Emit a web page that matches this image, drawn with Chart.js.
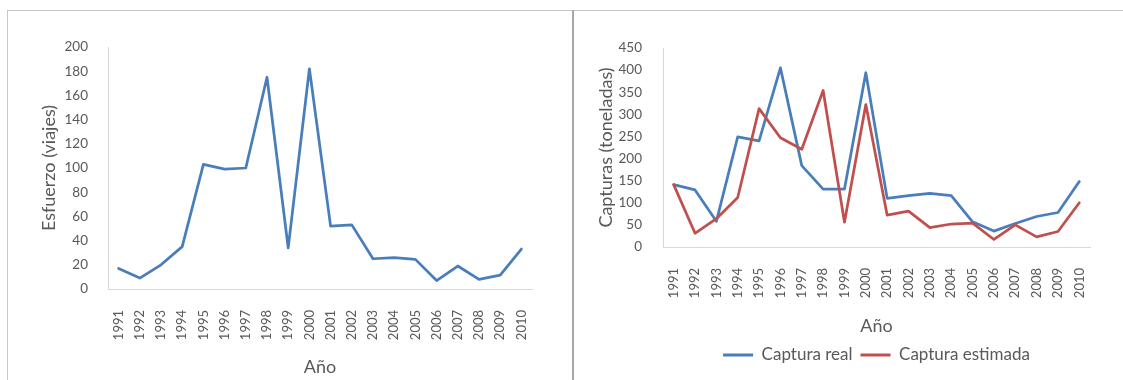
<!DOCTYPE html>
<html>
<head>
<meta charset="utf-8">
<script src="https://cdn.jsdelivr.net/npm/chart.js@4.4.1/dist/chart.umd.min.js"></script>
<style>
  html, body { margin: 0; padding: 0; background: #ffffff; }
  #page { position: relative; width: 1123px; height: 380px; overflow: hidden; background: #ffffff; }
  .rule-top  { position: absolute; left: 7px; top: 10px; width: 1116px; height: 1px; background: #c6c6c6; }
  .rule-left { position: absolute; left: 7px; top: 10px; width: 1px; height: 370px; background: #c6c6c6; }
  .rule-sep  { position: absolute; left: 572px; top: 10px; width: 2px; height: 370px; background: #a8a8a8; }
  #effortBox { position: absolute; left: 0; top: 0; width: 573px; height: 380px; }
  #catchBox  { position: absolute; left: 574px; top: 0; width: 549px; height: 380px; }
</style>
</head>
<body>
<div id="page">
  <div id="effortBox"><canvas id="effortChart" width="573" height="380"></canvas></div>
  <div id="catchBox"><canvas id="catchChart" width="549" height="380"></canvas></div>
  <div class="rule-top"></div>
  <div class="rule-left"></div>
  <div class="rule-sep"></div>
</div>
<script>
// Years on the horizontal axis of both panels
const years = ['1991','1992','1993','1994','1995','1996','1997','1998','1999','2000',
               '2001','2002','2003','2004','2005','2006','2007','2008','2009','2010'];

// Fishing effort (trips) per year
const esfuerzo = [17, 9, 20, 35, 103, 99, 100, 175, 34, 182,
                  52, 53, 25, 26, 24.5, 7, 19, 8, 11.5, 33];

// Catches (tonnes): observed and model estimate
const capturaReal = [141, 129, 58, 249, 240, 405, 184, 131, 131, 394,
                     110, 116, 121, 116, 57, 36, 53, 69, 78, 148];
const capturaEstimada = [141, 31, 64, 112, 313, 247, 221, 354, 56, 322,
                         72, 81, 44, 52, 54, 17, 50, 23, 35, 100];

// Axis ranges and text
const esfuerzoAxis = { min: 0, max: 200, step: 20 };
const capturaAxis  = { min: 0, max: 450, step: 50 };
const tituloEsfuerzo = 'Esfuerzo (viajes)';
const tituloCapturas = 'Capturas (toneladas)';
const tituloAnio = 'Año';
const serieNombres = ['Captura real', 'Captura estimada'];

const BLUE = '#4a7ebb';
const RED = '#c0504d';
const AXIS_LINE = '#d9d9d9';
const TEXT = '#595959';
const FONT = 'Lato, "Liberation Sans", sans-serif';

function lineStyle(color) {
  return {
    borderColor: color, backgroundColor: color,
    borderWidth: 2.75, borderJoinStyle: 'round', borderCapStyle: 'round',
    pointRadius: 0, tension: 0, fill: false
  };
}

function xScale(height, titlePadBottom) {
  return {
    type: 'category',
    offset: true,
    grid: { display: false },
    border: { display: true, color: AXIS_LINE, width: 1 },
    ticks: {
      color: TEXT, font: { family: FONT, size: 13 },
      maxRotation: 90, minRotation: 90, autoSkip: false, padding: 13
    },
    title: {
      display: true, text: tituloAnio, color: TEXT,
      font: { family: FONT, size: 18 },
      padding: { top: 0, bottom: titlePadBottom }
    },
    afterFit: s => { s.height = height; }
  };
}

function yScale(range, width, title, titlePadTop, tickPad) {
  return {
    min: range.min, max: range.max,
    grid: { display: false },
    border: { display: true, color: AXIS_LINE, width: 1 },
    ticks: {
      stepSize: range.step, color: TEXT,
      font: { family: FONT, size: 13.5 }, padding: tickPad
    },
    title: {
      display: true, text: title, color: TEXT,
      font: { family: FONT, size: 18 },
      padding: { top: titlePadTop, bottom: 0 }
    },
    afterFit: s => { s.width = width; }
  };
}

// Left panel: effort
new Chart(document.getElementById('effortChart'), {
  type: 'line',
  data: {
    labels: years,
    datasets: [Object.assign({ label: tituloEsfuerzo, data: esfuerzo }, lineStyle(BLUE))]
  },
  options: {
    responsive: false, animation: false,
    layout: { padding: { top: 47, right: 41, bottom: 0, left: 0 } },
    plugins: { legend: { display: false }, tooltip: { enabled: false } },
    scales: {
      x: xScale(91, 2.2),
      y: yScale(esfuerzoAxis, 108, tituloEsfuerzo, 38.2, 12)
    }
  }
});

// Right panel: observed vs estimated catches (estimate drawn on top)
new Chart(document.getElementById('catchChart'), {
  type: 'line',
  data: {
    labels: years,
    datasets: [
      Object.assign({ label: serieNombres[0], data: capturaReal, order: 1 }, lineStyle(BLUE)),
      Object.assign({ label: serieNombres[1], data: capturaEstimada, order: 0 }, lineStyle(RED))
    ]
  },
  options: {
    responsive: false, animation: false,
    layout: { padding: { top: 48, right: 33, bottom: 6.5, left: 0 } },
    plugins: {
      tooltip: { enabled: false },
      legend: {
        display: true, position: 'bottom', fullSize: false,
        labels: {
          color: TEXT, font: { family: FONT, size: 17 },
          boxWidth: 30, boxHeight: 3, padding: 8,
          sort: (a, b) => a.datasetIndex - b.datasetIndex,
          generateLabels: chart =>
            Chart.defaults.plugins.legend.labels.generateLabels(chart)
              .map(item => Object.assign(item, { lineWidth: 0, fillStyle: item.strokeStyle }))
        }
      }
    },
    scales: {
      x: xScale(91.5, 1.7),
      y: yScale(capturaAxis, 89, tituloCapturas, 21.2, 13)
    }
  }
});
</script>
</body>
</html>
